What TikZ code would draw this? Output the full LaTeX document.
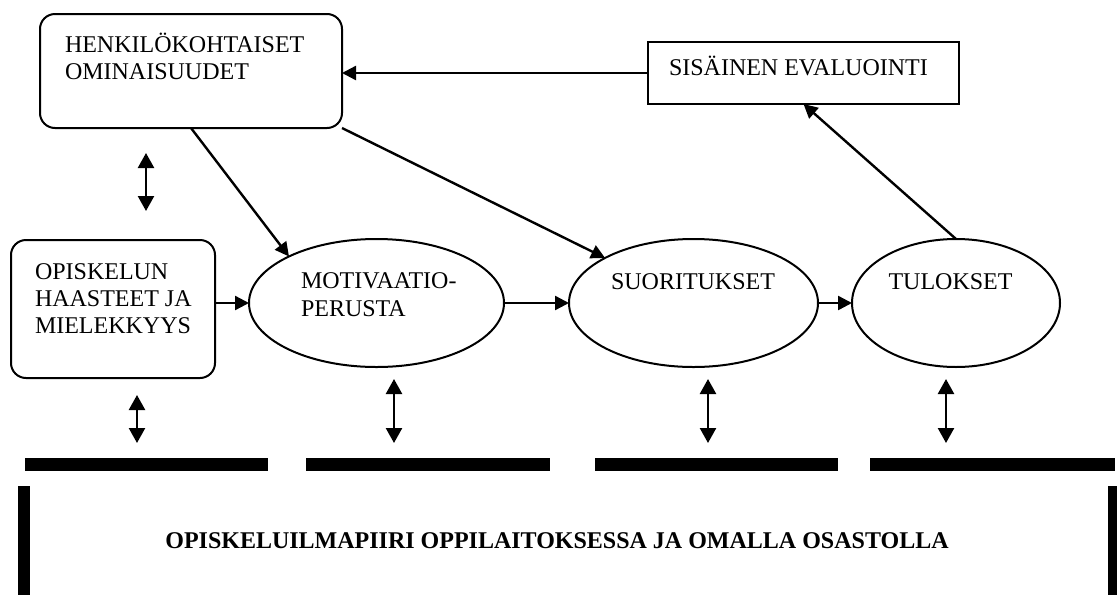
\documentclass[tikz,border=0pt]{standalone}
\usepackage{fontspec}
\setmainfont{Liberation Serif}
\usetikzlibrary{arrows.meta,shapes.geometric,calc}
\begin{document}
\begin{tikzpicture}[x=1pt,y=-1pt,
  every node/.style={inner sep=0pt, outer sep=0pt},
  rbox/.style={draw, line width=2pt, rounded corners=15pt},
  sbox/.style={draw, line width=2pt},
  oval/.style={draw, ellipse, line width=2pt},
  bar/.style={fill=black, draw=none},
  lbl/.style={font=\fontsize{24}{27}\selectfont, anchor=base west, align=left},
  conn/.style={line width=2.4pt, -{Triangle[length=14pt,width=14pt]}},
  dbl/.style={line width=2.4pt, {Triangle[length=15pt,width=16pt]}-{Triangle[length=15pt,width=16pt]}}]
\useasboundingbox[fill=white] (0,0) rectangle (1117,595);

% shapes
\node[rbox, minimum width=302pt, minimum height=114pt] (A) at (191,71) {};
\node[sbox, minimum width=311pt, minimum height=62pt] (sis) at (803.5,73) {};
\node[rbox, minimum width=204pt, minimum height=138pt] (B) at (113,309) {};
\node[oval, minimum width=255pt, minimum height=128pt] (mot) at (376.5,303) {};
\node[oval, minimum width=249pt, minimum height=128pt] (suo) at (693.5,303) {};
\node[oval, minimum width=208pt, minimum height=128pt] (tul) at (956,303) {};

% texts
\node[lbl] (tA1) at (65,52) {HENKILÖKOHTAISET};
\node[lbl] (tA2) at (65,79) {OMINAISUUDET};
\node[lbl] (tS) at (669,75) {SISÄINEN EVALUOINTI};
\node[lbl] (tB1) at (35,279) {OPISKELUN};
\node[lbl] (tB2) at (35,306) {HAASTEET JA};
\node[lbl] (tB3) at (35,333) {MIELEKKYYS};
\node[lbl] (tM1) at (301,288) {MOTIVAATIO-};
\node[lbl] (tM2) at (301,316) {PERUSTA};
\node[lbl, anchor=base] (tSu) at (693,289) {SUORITUKSET};
\node[lbl, anchor=base] (tT) at (950.5,289) {TULOKSET};

% bars
\node[bar, minimum width=243pt, minimum height=13pt] (bar1) at (146.5,464.5) {};
\node[bar, minimum width=244pt, minimum height=13pt] (bar2) at (428,464.5) {};
\node[bar, minimum width=243pt, minimum height=13pt] (bar3) at (716.5,464.5) {};
\node[bar, minimum width=245pt, minimum height=13pt] (bar4) at (992.5,464.5) {};
\node[bar, minimum width=12pt, minimum height=109pt] (vl) at (24,540.5) {};
\node[bar, minimum width=9pt, minimum height=109pt] (vr) at (1112.5,540.5) {};
\node[font=\fontsize{24}{27}\selectfont\bfseries, anchor=base] (env) at (557,548)
  {OPISKELUILMAPIIRI OPPILAITOKSESSA JA OMALLA OSASTOLLA};

% connectors
\draw[conn] (sis.west) -- (A.east |- sis.west);
\draw[conn] (tul.north) -- (sis.south);
\draw[conn] (A.south) -- (mot.152.8);
\draw[conn] (A.south east) -- (suo.153);
\draw[conn] (mot.west -| B.east) -- (mot.west);
\draw[conn] (mot.east) -- (suo.west);
\draw[conn] (suo.east) -- (tul.west);

% double arrows
\coordinate (d0a) at (146,153); \coordinate (d0b) at (146,211);
\coordinate (d1a) at (137,395); \coordinate (d1b) at (137,443);
\coordinate (d2a) at (394,379); \coordinate (d2b) at (394,443);
\coordinate (d3a) at (708,379); \coordinate (d3b) at (708,443);
\coordinate (d4a) at (946,379); \coordinate (d4b) at (946,443);
\draw[dbl] (d0a) -- (d0b);
\draw[dbl] (d1a) -- (d1b);
\draw[dbl] (d2a) -- (d2b);
\draw[dbl] (d3a) -- (d3b);
\draw[dbl] (d4a) -- (d4b);
\end{tikzpicture}
\end{document}
